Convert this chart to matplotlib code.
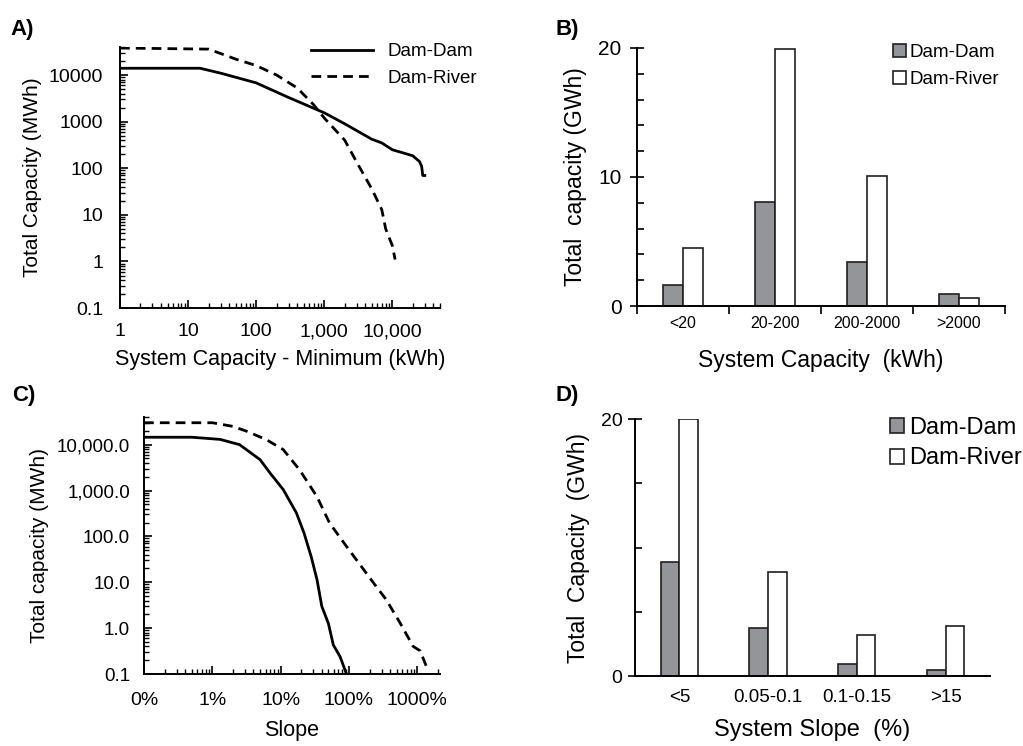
import numpy as np
import matplotlib
matplotlib.use('Agg')
import matplotlib.pyplot as plt
from matplotlib.ticker import FixedLocator, FixedFormatter, LogLocator, NullFormatter

plt.rcParams['font.family'] = ['Liberation Sans', 'DejaVu Sans']

# ---------------- data ----------------
# A) total capacity vs system capacity - minimum
a_dd_x = [1, 15, 30, 100, 300, 1000, 2000, 5000, 7000, 10000, 15000, 20000, 25000, 27000, 28000, 30000]
a_dd_y = [14000, 14000, 11000, 6800, 3300, 1550, 900, 420, 350, 250, 210, 185, 140, 110, 70, 70]
a_dr_x = [1, 20, 30, 50, 100, 200, 400, 700, 1000, 2000, 3000, 5000, 7000, 8000, 10000, 11000]
a_dr_y = [38000, 36000, 29000, 22000, 16000, 10000, 5300, 2300, 1200, 400, 135, 36, 13, 5, 2.2, 1.1]

# B) total capacity by system capacity class
b_cats = ['<20', '20-200', '200-2000', '>2000']
b_dam_dam = [1.6, 8.1, 3.4, 0.9]
b_dam_river = [4.5, 19.9, 10.1, 0.6]

# C) total capacity vs slope (%)
c_dd_x = [0.1, 0.5, 1.3, 2.5, 5, 7, 10.9, 17, 22, 28, 34, 40, 50, 59, 74, 92]
c_dd_y = [14500, 14500, 13000, 10000, 4700, 2400, 1050, 325, 118, 36, 11.5, 3, 1.26, 0.43, 0.24, 0.1]
c_dr_x = [0.1, 1, 2, 3.2, 6.2, 10.9, 19, 34, 52, 100, 140, 250, 350, 560, 870, 1100, 1350]
c_dr_y = [30000, 30000, 25000, 19500, 12800, 7800, 2800, 735, 195, 51, 26, 8.1, 4.2, 1.3, 0.4, 0.32, 0.15]

# D) total capacity by slope class
d_cats = ['<5', '0.05-0.1', '0.1-0.15', '>15']
d_dam_dam = [8.9, 3.7, 0.9, 0.5]
d_dam_river = [20.0, 8.1, 3.2, 3.9]

gray = '#939598'
edge = '#231f20'
dash = (0, (3.5, 2.2))

fig = plt.figure(figsize=(10.23, 7.46), dpi=100)

# ------------------------------------------------------------
# A)
axA = fig.add_axes([0.1173, 0.587, 0.3127, 0.350])
axA.plot(a_dd_x, a_dd_y, color='black', lw=2, label='Dam-Dam')
axA.plot(a_dr_x, a_dr_y, color='black', lw=2, linestyle=dash, label='Dam-River')
axA.set_xscale('log')
axA.set_yscale('log')
axA.set_xlim(1, 50000)
axA.set_ylim(0.1, 40000)
axA.xaxis.set_major_locator(FixedLocator([1, 10, 100, 1000, 10000]))
axA.xaxis.set_major_formatter(FixedFormatter(['1', '10', '100', '1,000', '10,000']))
axA.yaxis.set_major_locator(FixedLocator([0.1, 1, 10, 100, 1000, 10000]))
axA.yaxis.set_major_formatter(FixedFormatter(['0.1', '1', '10', '100', '1000', '10000']))
axA.set_xlabel('System Capacity - Minimum (kWh)', fontsize=15.5, labelpad=6)
axA.set_ylabel('Total Capacity (MWh)', fontsize=15, labelpad=5)
axA.legend(loc='upper right', frameon=False, fontsize=13.5, handlelength=3.3,
           bbox_to_anchor=(1.17, 1.08), labelspacing=0.5)

# ------------------------------------------------------------
# B)
axB = fig.add_axes([0.6227, 0.5898, 0.3597, 0.3459])
xb = np.arange(len(b_cats))
w = 0.22
axB.bar(xb - w / 2, b_dam_dam, w, color=gray, edgecolor=edge, lw=1.2, label='Dam-Dam')
axB.bar(xb + w / 2, b_dam_river, w, color='white', edgecolor=edge, lw=1.2, label='Dam-River')
axB.set_xlim(-0.5, 3.5)
axB.set_ylim(0, 20)
axB.set_yticks([0, 10, 20])
axB.set_yticks(np.arange(0, 21, 2), minor=True)
axB.set_xticks([-0.5, 0.5, 1.5, 2.5, 3.5])
axB.set_xticklabels([])
axB.set_xticks(xb, minor=True)
axB.set_xticklabels(b_cats, minor=True, fontsize=11.5)
axB.tick_params(axis='x', which='minor', length=0, pad=7)
axB.tick_params(axis='x', which='major', direction='out', length=6, width=1.2)
axB.tick_params(axis='y', which='major', direction='inout', length=10, width=1.2, labelsize=15, pad=6)
axB.tick_params(axis='y', which='minor', direction='in', length=5, width=1.2)
axB.set_xlabel('System Capacity  (kWh)', fontsize=16.5, labelpad=13)
axB.set_ylabel('Total  capacity (GWh)', fontsize=16.5, labelpad=8)
axB.legend(loc='upper right', frameon=False, fontsize=13.5, handlelength=0.7, handleheight=0.7,
           handletextpad=0.2, bbox_to_anchor=(1.03, 1.08), labelspacing=0.5)

# ------------------------------------------------------------
# C)
axC = fig.add_axes([0.1408, 0.0965, 0.2893, 0.3445])
axC.plot(c_dd_x, c_dd_y, color='black', lw=2)
axC.plot(c_dr_x, c_dr_y, color='black', lw=2, linestyle=dash)
axC.set_xscale('log')
axC.set_yscale('log')
axC.set_xlim(0.1, 2150)
axC.set_ylim(0.1, 40000)
axC.xaxis.set_major_locator(FixedLocator([0.1, 1, 10, 100, 1000]))
axC.xaxis.set_major_formatter(FixedFormatter(['0%', '1%', '10%', '100%', '1000%']))
axC.yaxis.set_major_locator(FixedLocator([0.1, 1, 10, 100, 1000, 10000]))
axC.yaxis.set_major_formatter(FixedFormatter(['0.1', '1.0', '10.0', '100.0', '1,000.0', '10,000.0']))
axC.set_xlabel('Slope', fontsize=15.5, labelpad=8)
axC.set_ylabel('Total capacity (MWh)', fontsize=15, labelpad=6)

for ax in (axA, axC):
    ax.xaxis.set_minor_locator(LogLocator(base=10, subs=np.arange(2, 10)))
    ax.yaxis.set_minor_locator(LogLocator(base=10, subs=np.arange(2, 10)))
    ax.xaxis.set_minor_formatter(NullFormatter())
    ax.yaxis.set_minor_formatter(NullFormatter())
    ax.tick_params(which='major', direction='in', length=6, width=1.2)
    ax.tick_params(which='minor', direction='in', length=3.5, width=1)

axA.tick_params(axis='y', labelsize=14, pad=12)
axA.tick_params(axis='x', labelsize=14, pad=11)
axC.tick_params(axis='y', labelsize=13.5, pad=10)
axC.tick_params(axis='x', labelsize=14, pad=13)

# ------------------------------------------------------------
# D)
axD = fig.add_axes([0.6207, 0.0938, 0.3470, 0.3445])
xd = np.arange(len(d_cats))
w = 0.21
axD.bar(xd - w / 2, d_dam_dam, w, color=gray, edgecolor=edge, lw=1.2, label='Dam-Dam')
axD.bar(xd + w / 2, d_dam_river, w, color='white', edgecolor=edge, lw=1.2, label='Dam-River')
axD.set_xlim(-0.5, 3.5)
axD.set_ylim(0, 20)
axD.set_yticks([0, 20])
axD.set_yticks([5, 10, 15], minor=True)
axD.set_xticks(xd)
axD.set_xticklabels(d_cats, fontsize=13.5)
axD.tick_params(axis='x', length=0, pad=9)
axD.tick_params(axis='y', which='major', direction='inout', length=10, width=1.2, labelsize=14, pad=4)
axD.tick_params(axis='y', which='minor', direction='in', length=5, width=1.2)
axD.set_xlabel('System Slope  (%)', fontsize=17, labelpad=10)
axD.set_ylabel('Total  Capacity  (GWh)', fontsize=16.5, labelpad=8)
axD.legend(loc='upper right', frameon=False, fontsize=17, handlelength=0.6, handleheight=0.6,
           handletextpad=0.2, bbox_to_anchor=(1.15, 1.09), labelspacing=0.35)

for ax in (axA, axB, axC, axD):
    ax.spines['top'].set_visible(False)
    ax.spines['right'].set_visible(False)
    ax.spines['left'].set_linewidth(1.4)
    ax.spines['bottom'].set_linewidth(1.4)

# panel letters
fig.text(0.010, 0.975, 'A)', fontsize=16, fontweight='bold', va='top')
fig.text(0.543, 0.975, 'B)', fontsize=16, fontweight='bold', va='top')
fig.text(0.012, 0.484, 'C)', fontsize=16, fontweight='bold', va='top')
fig.text(0.543, 0.484, 'D)', fontsize=16, fontweight='bold', va='top')

plt.savefig('out.png', dpi=100)
